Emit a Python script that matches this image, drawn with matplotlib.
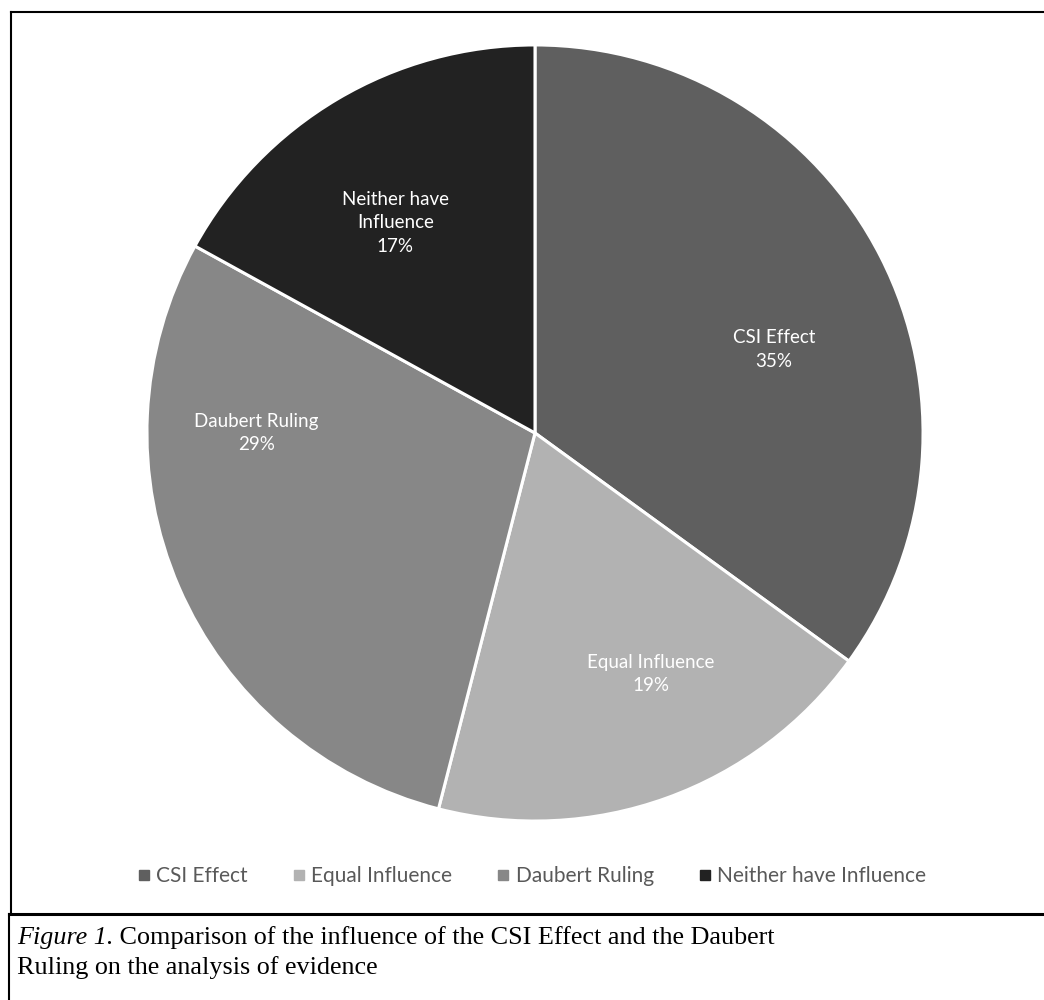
import numpy as np
import matplotlib
matplotlib.use("Agg")
import matplotlib.pyplot as plt
from matplotlib.lines import Line2D

categories = ["CSI Effect", "Equal Influence", "Daubert Ruling", "Neither have Influence"]
slice_labels = ["CSI Effect", "Equal Influence", "Daubert Ruling", "Neither have\nInfluence"]
shares = [35, 19, 29, 17]
colors = ["#5f5f5f", "#b2b2b2", "#878787", "#222222"]

# label placement (angle offset from slice middle in degrees, radius fraction)
label_shift = [(-7.7, 0.652), (5.9, 0.69), (-23.4, 0.718), (3, 0.65)]

caption_lead = "Figure 1."
caption_rest = " Comparison of the influence of the CSI Effect and the Daubert"
caption_line2 = "Ruling on the analysis of evidence"

plt.rcParams['font.family'] = ['Lato', 'DejaVu Sans']

fig = plt.figure(figsize=(10.44, 10), dpi=100)
ax = fig.add_axes([0.1389, 0.177, 0.7471, 0.78])

wedges, _ = ax.pie(shares, colors=colors, startangle=90, counterclock=False,
                   wedgeprops=dict(edgecolor="white", linewidth=2.2))
ax.set_xlim(-1.005, 1.005)
ax.set_ylim(-1.005, 1.005)
ax.set_aspect("equal")

for w, lab, s, (da, rf) in zip(wedges, slice_labels, shares, label_shift):
    mid = np.deg2rad((w.theta1 + w.theta2) / 2 + da)
    ax.text(rf * np.cos(mid), rf * np.sin(mid), f"{lab}\n{s}%", ha="center", va="center",
            color="white", fontsize=13.5, linespacing=1.45)

handles = [Line2D([], [], marker="s", linestyle="none", color=c, markersize=6.5) for c in colors]
fig.legend(handles, categories, loc="center", bbox_to_anchor=(0.508, 0.124), ncol=4,
           frameon=False, fontsize=15, handletextpad=0.15, columnspacing=2.0,
           labelcolor="#595959", handlelength=0.9)

# frame lines around the chart and caption
fig.add_artist(Line2D([11 / 1044, 1], [1 - 12 / 1000] * 2, color="black", lw=1.5))
fig.add_artist(Line2D([11 / 1044] * 2, [1 - 12 / 1000, 1 - 914 / 1000], color="black", lw=1.5))
fig.add_artist(Line2D([9 / 1044, 1], [1 - 914 / 1000] * 2, color="black", lw=2.2))
fig.add_artist(Line2D([9 / 1044] * 2, [1 - 914 / 1000, 0], color="black", lw=1.5))

# caption: italic lead, then plain text on the same baseline
cap_size = 18.8
t1 = fig.text(17 / 1044, 1 - 944 / 1000, caption_lead, ha="left", va="baseline",
              fontsize=cap_size, family="Liberation Serif", style="italic")
fig.add_artist(plt.Annotation(caption_rest, xy=(1, 0), xycoords=t1, ha="left", va="bottom",
                              fontsize=cap_size, family="Liberation Serif"))
fig.text(17 / 1044, 1 - 974 / 1000, caption_line2, ha="left", va="baseline",
         fontsize=cap_size, family="Liberation Serif")

fig.savefig("out.png", dpi=100)
